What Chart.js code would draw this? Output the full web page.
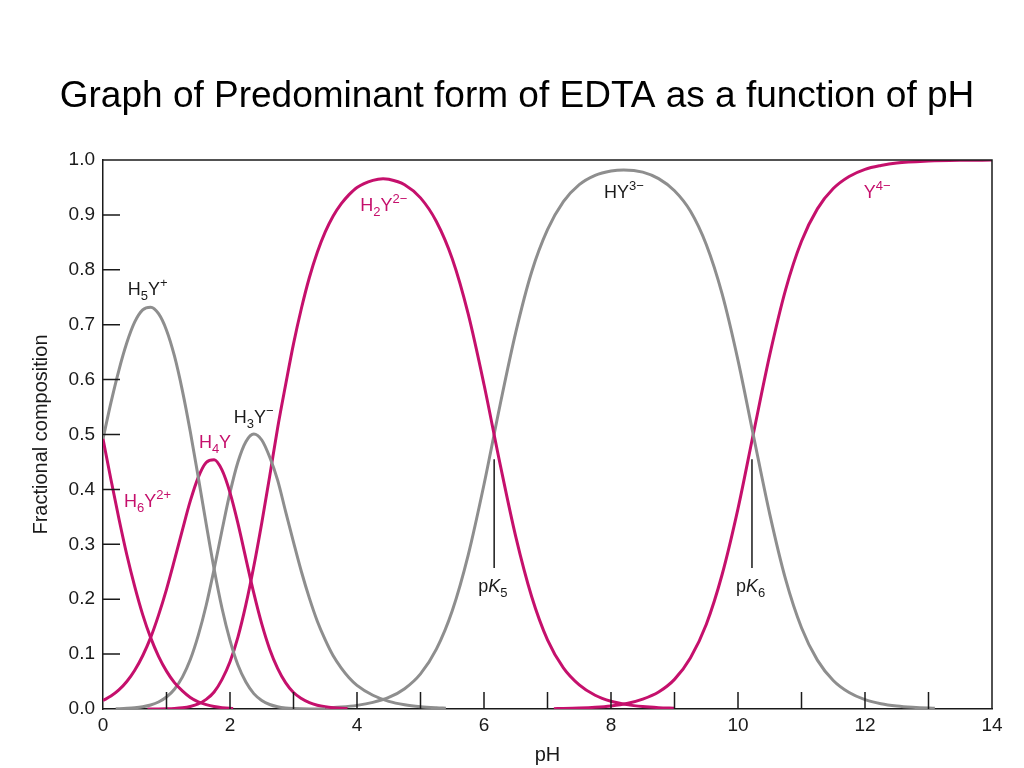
<!DOCTYPE html>
<html>
<head>
<meta charset="utf-8">
<title>EDTA fractional composition</title>
<script src="https://cdn.jsdelivr.net/npm/chart.js@4.4.1/dist/chart.umd.min.js"></script>
<style>
  html, body { margin: 0; padding: 0; background: #fff; }
  #chart { display: block; }
</style>
</head>
<body>
<canvas id="chart" width="1024" height="768"></canvas>
<script>
// values (pH, fraction) for each species
const phH6Y   = [0, 0.125, 0.25, 0.375, 0.5, 0.625, 0.75, 0.875, 1, 1.125, 1.25, 1.375, 1.5, 1.625, 1.75, 1.875, 2, 2.05];
const fracH6Y = [0.492, 0.418, 0.347, 0.281, 0.223, 0.172, 0.130, 0.096, 0.069, 0.048, 0.033, 0.021, 0.013, 0.008, 0.0045, 0.0024, 0.0012, 0.001];

const phH5Y   = [0, 0.125, 0.25, 0.375, 0.5, 0.625, 0.75, 0.875, 1, 1.125, 1.25, 1.375, 1.5, 1.625, 1.75, 1.875, 2, 2.125, 2.25, 2.375, 2.5, 2.625, 2.75, 2.875, 3, 3.25, 3.5];
const fracH5Y = [0.492, 0.558, 0.617, 0.667, 0.705, 0.727, 0.732, 0.720, 0.690, 0.643, 0.580, 0.505, 0.422, 0.337, 0.255, 0.183, 0.125, 0.080, 0.049, 0.028, 0.0155, 0.0082, 0.0042, 0.002, 0.001, 0.0002, 0.0001];

const phH4Y   = [0, 0.125, 0.25, 0.375, 0.5, 0.625, 0.75, 0.875, 1, 1.125, 1.25, 1.375, 1.5, 1.625, 1.75, 1.875, 2, 2.125, 2.25, 2.375, 2.5, 2.625, 2.75, 2.875, 3, 3.125, 3.25, 3.375, 3.5, 3.625, 3.75, 3.85];
const fracH4Y = [0.0156, 0.0235, 0.0347, 0.050, 0.0705, 0.097, 0.130, 0.171, 0.218, 0.271, 0.326, 0.379, 0.422, 0.449, 0.454, 0.435, 0.394, 0.338, 0.274, 0.211, 0.155, 0.109, 0.074, 0.048, 0.030, 0.019, 0.0114, 0.0068, 0.004, 0.0023, 0.0013, 0.0009];

const phH3Y   = [0.2, 0.375, 0.5, 0.625, 0.75, 0.875, 1, 1.125, 1.25, 1.375, 1.5, 1.625, 1.75, 1.875, 2, 2.125, 2.25, 2.375, 2.5, 2.625, 2.75, 2.875, 3, 3.125, 3.25, 3.375, 3.5, 3.625, 3.75, 3.875, 4, 4.25, 4.5, 4.75, 5, 5.25, 5.4];
const fracH3Y = [0.0004, 0.0012, 0.0022, 0.0041, 0.0073, 0.0128, 0.0218, 0.036, 0.058, 0.090, 0.134, 0.189, 0.255, 0.326, 0.394, 0.450, 0.487, 0.501, 0.490, 0.459, 0.417, 0.360, 0.304, 0.250, 0.202, 0.160, 0.126, 0.097, 0.075, 0.057, 0.043, 0.025, 0.014, 0.0078, 0.0043, 0.0023, 0.0015];

const phH2Y   = [0.7, 0.875, 1, 1.125, 1.25, 1.375, 1.5, 1.625, 1.75, 1.875, 2, 2.125, 2.25, 2.375, 2.5, 2.625, 2.75, 2.875, 3, 3.125, 3.25, 3.375, 3.5, 3.625, 3.75, 3.875, 4, 4.25, 4.41, 4.5, 4.75, 5, 5.25, 5.5, 5.75, 6, 6.25, 6.5, 6.75, 7, 7.25, 7.5, 7.75, 8, 8.25, 8.5, 8.75, 9];
const fracH2Y = [0.0001, 0.0002, 0.0005, 0.0011, 0.0023, 0.0047, 0.0092, 0.0175, 0.031, 0.054, 0.086, 0.131, 0.190, 0.260, 0.339, 0.424, 0.512, 0.590, 0.665, 0.730, 0.786, 0.832, 0.869, 0.898, 0.920, 0.937, 0.950, 0.963, 0.966, 0.965, 0.955, 0.931, 0.888, 0.820, 0.720, 0.591, 0.448, 0.314, 0.205, 0.126, 0.075, 0.044, 0.025, 0.014, 0.008, 0.0045, 0.0025, 0.0014];

const phHY    = [3.5, 3.75, 4, 4.25, 4.5, 4.75, 5, 5.25, 5.5, 5.75, 6, 6.25, 6.5, 6.75, 7, 7.25, 7.5, 7.75, 8, 8.2, 8.5, 8.75, 9, 9.25, 9.5, 9.75, 10, 10.25, 10.5, 10.75, 11, 11.25, 11.5, 11.75, 12, 12.25, 12.5, 12.75, 13, 13.1];
const fracHY  = [0.0019, 0.0036, 0.0066, 0.012, 0.021, 0.037, 0.064, 0.109, 0.179, 0.280, 0.409, 0.552, 0.686, 0.796, 0.873, 0.924, 0.955, 0.972, 0.980, 0.982, 0.978, 0.966, 0.944, 0.907, 0.846, 0.756, 0.635, 0.494, 0.355, 0.236, 0.148, 0.089, 0.052, 0.030, 0.017, 0.0097, 0.0055, 0.0031, 0.0017, 0.0014];

const phY     = [7.1, 7.25, 7.5, 7.75, 8, 8.25, 8.5, 8.75, 9, 9.25, 9.5, 9.75, 10, 10.25, 10.5, 10.75, 11, 11.25, 11.5, 11.75, 12, 12.25, 12.5, 13, 13.5, 14];
const fracY   = [0.0006, 0.0009, 0.0017, 0.0031, 0.0056, 0.010, 0.018, 0.031, 0.054, 0.093, 0.154, 0.245, 0.365, 0.506, 0.645, 0.764, 0.852, 0.911, 0.948, 0.970, 0.983, 0.990, 0.9945, 0.998, 0.9994, 0.9998];

const pKLines = [6.16, 10.22];
const xTickLabels = [0, 2, 4, 6, 8, 10, 12, 14];
const chartTitle = 'Graph of Predominant form of EDTA as a function of pH';

const FONT = '"Liberation Sans", Arial, Helvetica, sans-serif';
const PINK = '#c5106c';
const GREY = '#8e8e8e';
const INK = '#1a1a1a';

function pts(xs, ys) {
  return xs.map((x, i) => ({ x: x, y: ys[i] }));
}

function curve(label, xs, ys, color) {
  return {
    label: label,
    data: pts(xs, ys),
    borderColor: color,
    borderWidth: 3,
    pointRadius: 0,
    fill: false,
    cubicInterpolationMode: 'monotone'
  };
}

// chemical formula drawn piece by piece, sub/superscripts smaller
function drawFormula(ctx, parts, x, y, color) {
  ctx.fillStyle = color;
  ctx.textAlign = 'left';
  ctx.textBaseline = 'alphabetic';
  parts.forEach(p => {
    const small = p.sub || p.sup;
    ctx.font = (p.it ? 'italic ' : '') + (small ? 13 : 18) + 'px ' + FONT;
    const dy = p.sub ? 5 : p.sup ? -8 : 0;
    ctx.fillText(p.t, x, y + dy);
    x += ctx.measureText(p.t).width;
  });
}

const decorations = {
  id: 'decorations',
  afterDraw(chart) {
    const ctx = chart.ctx;
    const a = chart.chartArea;
    const xs = chart.scales.x, ys = chart.scales.y;
    ctx.save();

    // slide title, centred on the page rather than the plot
    ctx.fillStyle = '#000';
    ctx.font = '37px ' + FONT;
    ctx.textAlign = 'center';
    ctx.textBaseline = 'alphabetic';
    ctx.fillText(chartTitle, 517, 107);

    ctx.strokeStyle = INK;
    ctx.lineWidth = 1.5;
    // frame top and right
    ctx.beginPath();
    ctx.moveTo(a.left, a.top); ctx.lineTo(a.right, a.top); ctx.lineTo(a.right, a.bottom);
    ctx.stroke();
    // inner tick marks
    ctx.beginPath();
    for (let i = 1; i < 14; i++) {
      const px = xs.getPixelForValue(i);
      ctx.moveTo(px, a.bottom); ctx.lineTo(px, a.bottom - 17);
    }
    for (let i = 1; i < 10; i++) {
      const py = ys.getPixelForValue(i / 10);
      ctx.moveTo(a.left, py); ctx.lineTo(a.left + 17, py);
    }
    ctx.stroke();
    // pK markers
    ctx.beginPath();
    pKLines.forEach(pk => {
      const px = xs.getPixelForValue(pk);
      ctx.moveTo(px, ys.getPixelForValue(0.455)); ctx.lineTo(px, ys.getPixelForValue(0.257));
    });
    ctx.stroke();

    const label = (parts, ph, v, color) => {
      drawFormula(ctx, parts, xs.getPixelForValue(ph), ys.getPixelForValue(v), color);
    };
    label([{t: 'H'}, {t: '5', sub: 1}, {t: 'Y'}, {t: '+', sup: 1}], 0.39, 0.754, INK);
    label([{t: 'H'}, {t: '6', sub: 1}, {t: 'Y'}, {t: '2+', sup: 1}], 0.33, 0.368, PINK);
    label([{t: 'H'}, {t: '4', sub: 1}, {t: 'Y'}], 1.51, 0.475, PINK);
    label([{t: 'H'}, {t: '3', sub: 1}, {t: 'Y'}, {t: '\u2212', sup: 1}], 2.06, 0.521, INK);
    label([{t: 'H'}, {t: '2', sub: 1}, {t: 'Y'}, {t: '2\u2212', sup: 1}], 4.05, 0.907, PINK);
    label([{t: 'HY'}, {t: '3\u2212', sup: 1}], 7.89, 0.931, INK);
    label([{t: 'Y'}, {t: '4\u2212', sup: 1}], 11.98, 0.931, PINK);
    label([{t: 'p'}, {t: 'K', it: 1}, {t: '5', sub: 1}], 5.91, 0.213, INK);
    label([{t: 'p'}, {t: 'K', it: 1}, {t: '6', sub: 1}], 9.97, 0.213, INK);
    ctx.restore();
  }
};

new Chart(document.getElementById('chart'), {
  type: 'line',
  data: {
    datasets: [
      curve('H6Y2+', phH6Y, fracH6Y, PINK),
      curve('H5Y+', phH5Y, fracH5Y, GREY),
      curve('H4Y', phH4Y, fracH4Y, PINK),
      curve('H3Y-', phH3Y, fracH3Y, GREY),
      curve('H2Y2-', phH2Y, fracH2Y, PINK),
      curve('HY3-', phHY, fracHY, GREY),
      curve('Y4-', phY, fracY, PINK)
    ]
  },
  options: {
    responsive: false,
    animation: false,
    layout: { padding: { left: 0, right: 32, top: 160, bottom: 0 } },
    plugins: {
      legend: { display: false },
      tooltip: { enabled: false },
      title: { display: false }
    },
    scales: {
      x: {
        type: 'linear',
        min: 0,
        max: 14,
        afterFit(scale) { scale.height = 59; },
        afterBuildTicks(scale) { scale.ticks = xTickLabels.map(v => ({ value: v })); },
        ticks: { color: INK, font: { family: FONT, size: 19 }, padding: 5, maxRotation: 0 },
        grid: { display: false, drawTicks: false },
        border: { color: INK, width: 1.5 },
        title: { display: true, text: 'pH', color: INK, font: { family: FONT, size: 20 }, padding: { top: 0, bottom: 1 } }
      },
      y: {
        min: 0,
        max: 1,
        afterFit(scale) { scale.width = 103; },
        ticks: { stepSize: 0.1, color: INK, font: { family: FONT, size: 19 }, padding: 8, callback: v => v.toFixed(1) },
        grid: { display: false, drawTicks: false },
        border: { color: INK, width: 1.5 },
        title: { display: true, text: 'Fractional composition', color: INK, font: { family: FONT, size: 20 }, padding: { top: 29, bottom: 0 } }
      }
    }
  },
  plugins: [decorations]
});
</script>
</body>
</html>
